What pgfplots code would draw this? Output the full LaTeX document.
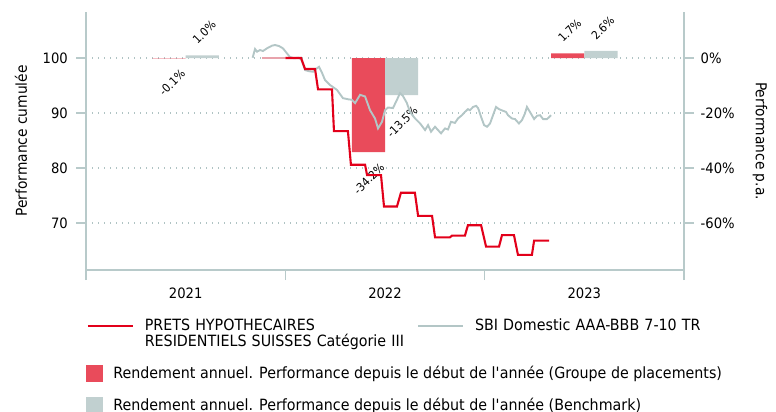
\documentclass[border=0pt]{standalone}
\usepackage{fontspec}
\setmainfont{DejaVu Sans}[FakeStretch=0.92]
\usepackage{pgfplots}
\pgfplotsset{compat=1.18}
\definecolor{redline}{HTML}{E2001A}
\definecolor{redbar}{HTML}{E94B5B}
\definecolor{graybar}{HTML}{C1D0D0}
\definecolor{grayline}{HTML}{B3C6C6}
\definecolor{axiscol}{HTML}{B8CACA}
\definecolor{gridcol}{HTML}{AFC3C3}
\definecolor{pinkline}{HTML}{E8A3AC}
\newcommand{\tickfont}{\fontsize{14.3}{16}\selectfont}
\newcommand{\labfont}{\fontsize{15}{17}\selectfont}
\newcommand{\barfont}{\fontsize{11.5}{13}\selectfont}
\begin{document}
\begin{tikzpicture}
% ---------- bars, right axis (performance p.a.) ----------
\begin{axis}[
  at={(86pt,-270pt)}, anchor=south west,
  width=598pt, height=258pt, scale only axis,
  xmin=2021, xmax=2024,
  ymin=-77.09, ymax=16.73,
  axis x line=none,
  axis y line*=right,
  axis line style={-, draw=axiscol, line width=1.6pt},
  ytick={-60,-40,-20,0},
  yticklabels={-60\%,-40\%,-20\%,0\%},
  tick align=outside,
  major tick length=10pt,
  tick style={draw=axiscol, line width=1.6pt},
  yticklabel style={font=\tickfont, inner sep=0pt, xshift=6.5pt},
  ymajorgrids,
  grid style={draw=gridcol, line width=1.2pt, dash pattern=on 1.2pt off 4.8pt},
  ylabel={Performance p.a.},
  every axis y label/.style={at={(axis description cs:1.1271,0.5)}, rotate=-90, anchor=center, font=\labfont},
  legend style={at={(0,-0.36783)}, anchor=north west, draw=none, fill=none,
    inner sep=0pt, outer sep=0pt, row sep=14.3pt, column sep=0pt,
    font=\fontsize{15.5}{17}\selectfont, cells={anchor=base west},
    nodes={inner sep=0pt, text height=12pt, text depth=4pt}},
]
\addplot[ybar, bar width=0.16667, bar shift=0pt, fill=redbar, draw=none,
  legend image code/.code={\fill[redbar] (0pt,-3.3pt) rectangle (16.7pt,13.4pt); \path (27.3pt,0pt);}]
  coordinates {(2021.41667,-0.1) (2022.41667,-34.2) (2023.41667,1.7)};
\addlegendentry{Rendement annuel. Performance depuis le début de l\textquotesingle année (Groupe de placements)}
\addplot[ybar, bar width=0.16667, bar shift=0pt, fill=graybar, draw=none,
  legend image code/.code={\fill[graybar] (0pt,-3.3pt) rectangle (16.7pt,13.4pt); \path (27.3pt,0pt);}]
  coordinates {(2021.58333,1.0) (2022.58333,-13.5) (2023.58333,2.6)};
\addlegendentry{Rendement annuel. Performance depuis le début de l\textquotesingle année (Benchmark)}
% value labels
\node[font=\barfont, inner sep=0pt, xshift=-7.7pt, yshift=13.2pt, rotate=45, anchor=west] at (axis cs:2021.58333,1.0) {1.0\%};
\node[font=\barfont, inner sep=0pt, xshift=-7.7pt, yshift=13.2pt, rotate=45, anchor=west] at (axis cs:2023.41667,1.7) {1.7\%};
\node[font=\barfont, inner sep=0pt, xshift=-7.7pt, yshift=13.2pt, rotate=45, anchor=west] at (axis cs:2023.58333,2.6) {2.6\%};
\node[font=\barfont, inner sep=0pt, xshift=14pt, yshift=-13.5pt, rotate=45, anchor=east] at (axis cs:2021.41667,-0.1) {-0.1\%};
\node[font=\barfont, inner sep=0pt, xshift=14pt, yshift=-13.5pt, rotate=45, anchor=east] at (axis cs:2022.41667,-34.2) {-34.2\%};
\node[font=\barfont, inner sep=0pt, xshift=14pt, yshift=-13.5pt, rotate=45, anchor=east] at (axis cs:2022.58333,-13.5) {-13.5\%};
\end{axis}
% ---------- lines, left axis (performance cumulee) ----------
\begin{axis}[
  at={(86pt,-270pt)}, anchor=south west,
  width=598pt, height=258pt, scale only axis,
  xmin=2021, xmax=2024,
  ymin=61.455, ymax=108.364,
  axis x line*=bottom, axis y line*=left,
  axis line style={-, draw=axiscol, line width=1.6pt},
  tick align=outside,
  major tick length=10pt,
  tick style={draw=axiscol, line width=1.6pt},
  ytick={70,80,90,100}, yticklabels={70,80,90,100},
  xtick={2021,2022,2023,2024}, xticklabels={,,,},
  extra x ticks={2021.5,2022.5,2023.5},
  extra x tick labels={2021,2022,2023},
  extra x tick style={tick style={draw=none}},
  yticklabel style={font=\tickfont, inner sep=0pt, xshift=-8pt},
  xticklabel style={font=\tickfont, inner sep=0pt, yshift=-7.5pt},
  ylabel={Performance cumulée},
  every axis y label/.style={at={(axis description cs:-0.1087,0.5)}, rotate=90, anchor=center, font=\labfont},
  legend columns=2,
  legend style={at={(0.00117,-0.18876)}, anchor=north west, draw=none, fill=none,
    inner sep=0pt, outer sep=0pt, column sep=0pt, row sep=0pt,
    font=\fontsize{15.5}{16.3}\selectfont, cells={anchor=base west},
    nodes={inner sep=0pt, text width=272.3pt, align=left, text depth=}},
  legend image code/.code={\draw[#1] (0pt,4.3pt) -- (45pt,4.3pt); \path (56pt,0pt);},
]
\addplot[grayline, line width=1.9pt, no marks, forget plot] coordinates {
(2021.836,100.05) (2021.848,101.64) (2021.858,101.15) (2021.873,101.45) (2021.888,101.27)
(2021.908,101.76) (2021.933,102.24) (2021.948,102.36) (2021.968,102.18) (2021.988,101.76)
(2022.008,100.85) (2022.023,100.18) (2022.044,99.95) (2022.064,100.05) (2022.079,99.8)
(2022.099,97.8) (2022.119,97.6) (2022.139,97.5) (2022.154,98.0) (2022.169,98.4)
(2022.184,97.3) (2022.199,96.0) (2022.224,95.1) (2022.259,94.2) (2022.289,92.7)
(2022.314,92.5) (2022.334,92.4) (2022.350,91.8) (2022.375,93.3) (2022.400,93.0)
(2022.425,90.5) (2022.450,89.0) (2022.465,87.2) (2022.485,88.4) (2022.500,90.5)
(2022.515,91.0) (2022.540,90.9) (2022.560,92.4) (2022.575,93.6) (2022.590,93.1)
(2022.610,91.8) (2022.625,90.2) (2022.651,89.0) (2022.676,88.1) (2022.701,86.9)
(2022.716,87.8) (2022.731,86.6) (2022.751,87.5) (2022.781,86.3) (2022.801,87.2)
(2022.816,87.0) (2022.831,88.4) (2022.851,88.2) (2022.866,89.0) (2022.886,89.6)
(2022.901,90.2) (2022.916,90.7) (2022.926,90.5) (2022.942,91.1) (2022.957,91.3)
(2022.967,90.9) (2022.982,89.3) (2022.997,87.8) (2023.012,87.5) (2023.027,88.1)
(2023.042,89.6) (2023.057,91.1) (2023.072,90.7) (2023.092,90.4) (2023.107,90.2)
(2023.117,89.6) (2023.137,89.0) (2023.152,88.9) (2023.172,88.1) (2023.187,88.7)
(2023.202,89.9) (2023.212,91.1) (2023.232,89.9) (2023.248,88.9) (2023.263,89.5)
(2023.278,89.6) (2023.293,88.9) (2023.313,88.9) (2023.333,89.6)};
\addplot[pinkline, line width=2.1pt, no marks, forget plot] coordinates {(2021.883,100) (2022.0,100)};
\addplot[redline, line width=2.1pt, no marks, forget plot] coordinates {
(2022.000,100.0) (2022.079,100.0) (2022.099,98.0) (2022.149,98.0) (2022.164,94.3)
(2022.234,94.3) (2022.244,86.7) (2022.314,86.7) (2022.329,80.6) (2022.400,80.6)
(2022.410,78.7) (2022.480,78.7) (2022.495,73.0) (2022.560,73.0) (2022.580,75.5)
(2022.650,75.5) (2022.666,71.3) (2022.736,71.3) (2022.751,67.4) (2022.826,67.4)
(2022.836,67.7) (2022.901,67.7) (2022.916,69.6) (2022.982,69.6) (2023.007,65.7)
(2023.072,65.7) (2023.087,67.8) (2023.147,67.8) (2023.167,64.2) (2023.237,64.2)
(2023.248,66.8) (2023.323,66.8)};
\addlegendimage{redline, line width=2.1pt}
\addlegendentry{PRETS HYPOTHECAIRES\\RESIDENTIELS SUISSES Catégorie III}
\addlegendimage{grayline, line width=1.9pt}
\addlegendentry{SBI Domestic AAA-BBB 7-10 TR}
\end{axis}
\pgfresetboundingbox
\useasboundingbox (0pt,0pt) rectangle (776pt,-412pt);
\end{tikzpicture}
\end{document}
